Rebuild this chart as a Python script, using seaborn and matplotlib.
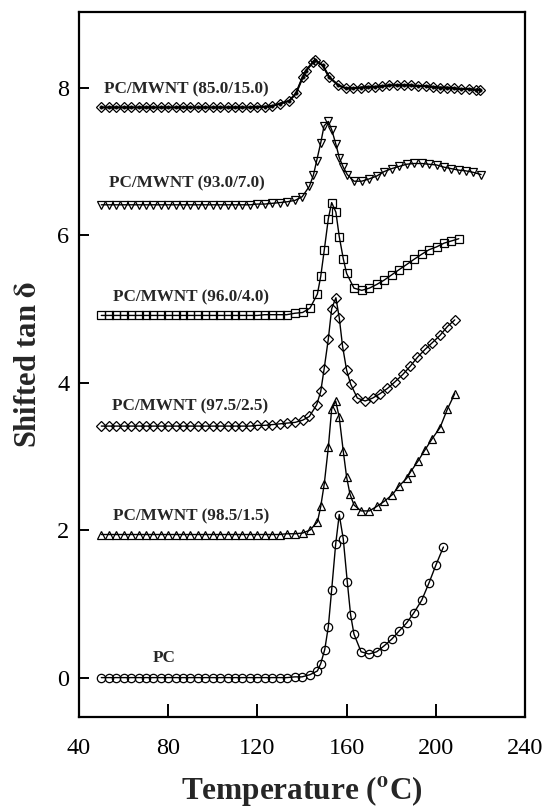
import matplotlib
matplotlib.use("Agg")
import matplotlib.pyplot as plt
import seaborn as sns
import pandas as pd

sns.set_theme(style="white")
plt.rcParams['font.family'] = ['Liberation Serif', 'DejaVu Serif']
plt.rcParams['mathtext.fontset'] = 'stix'

# ---------------- data ----------------
T_FLAT = [50.0, 53.3, 56.7, 60.0, 63.3, 66.7, 70.0, 73.3, 76.7, 80.0, 83.3, 86.7, 90.0,
          93.3, 96.7, 100.0, 103.3, 106.7, 110.0, 113.3, 116.7, 120.0, 123.3, 126.7, 130.0]

pc_T = T_FLAT + [133.3, 136.7, 140.0, 143.6, 146.9, 148.4, 150.2, 151.8, 153.3, 155.1, 156.7,
                 158.5, 160.3, 161.8, 163.3, 166.5, 170.0, 173.5, 176.8, 180.2, 183.5, 186.9,
                 190.2, 193.7, 196.9, 200.1, 203.4]
pc_y = [0.00, 0.00, 0.00, 0.00, 0.00, 0.00, 0.00, 0.00, 0.00, 0.00, 0.00, 0.00, 0.00,
        0.00, 0.00, 0.00, 0.00, 0.00, 0.00, 0.00, 0.00, 0.00, 0.00, 0.00, 0.00,
        0.00, 0.01, 0.01, 0.04, 0.09, 0.19, 0.38, 0.69, 1.19, 1.81, 2.21,
        1.88, 1.30, 0.85, 0.59, 0.35, 0.32, 0.35, 0.43, 0.52, 0.63, 0.74,
        0.88, 1.05, 1.28, 1.53, 1.77]

m15_T = T_FLAT + [133.1, 136.9, 140.3, 143.6, 146.9, 148.4, 150.0, 151.8, 153.3, 155.1, 156.7,
                  158.5, 160.0, 161.5, 163.3, 166.5, 170.2, 173.5, 176.9, 180.5, 183.6, 186.9,
                  188.7, 191.9, 195.2, 198.4, 201.9, 205.2, 208.5]
m15_y = [1.94, 1.94, 1.94, 1.94, 1.94, 1.94, 1.94, 1.94, 1.94, 1.94, 1.94, 1.94, 1.94,
         1.94, 1.94, 1.94, 1.94, 1.94, 1.94, 1.94, 1.94, 1.94, 1.94, 1.94, 1.94,
         1.95, 1.95, 1.96, 2.00, 2.11, 2.32, 2.63, 3.12, 3.64, 3.75, 3.53,
         3.07, 2.72, 2.49, 2.34, 2.26, 2.26, 2.32, 2.39, 2.48, 2.60, 2.70,
         2.79, 2.93, 3.09, 3.24, 3.39, 3.64, 3.85]

m25_T = T_FLAT + [133.1, 136.9, 140.3, 143.3, 146.6, 148.4, 149.9, 151.8, 153.3, 155.2, 156.7,
                  158.2, 160.0, 161.8, 164.8, 168.3, 171.7, 175.0, 178.3, 181.7, 185.2, 188.5,
                  191.7, 195.2, 198.4, 201.9, 205.2, 208.5]
m25_y = [3.41, 3.41, 3.41, 3.41, 3.41, 3.41, 3.41, 3.41, 3.41, 3.41, 3.41, 3.41, 3.41,
         3.41, 3.41, 3.41, 3.41, 3.41, 3.41, 3.41, 3.41, 3.42, 3.42, 3.43, 3.44,
         3.45, 3.46, 3.49, 3.54, 3.70, 3.88, 4.18, 4.59, 5.00, 5.15, 4.88,
         4.49, 4.17, 3.98, 3.79, 3.75, 3.79, 3.85, 3.92, 4.01, 4.11, 4.22,
         4.34, 4.45, 4.54, 4.64, 4.76, 4.85]

m40_T = T_FLAT + [133.1, 136.9, 140.3, 143.6, 146.9, 148.4, 150.0, 151.8, 153.3, 155.2, 156.7,
                  158.5, 160.0, 163.3, 166.8, 170.2, 173.5, 176.9, 180.2, 183.5, 186.9, 190.2,
                  193.7, 196.9, 200.4, 203.7, 207.0, 210.3]
m40_y = [4.91, 4.91, 4.91, 4.91, 4.91, 4.91, 4.91, 4.91, 4.91, 4.91, 4.91, 4.91, 4.91,
         4.91, 4.91, 4.91, 4.91, 4.91, 4.91, 4.91, 4.91, 4.91, 4.92, 4.92, 4.92,
         4.92, 4.94, 4.95, 5.01, 5.20, 5.44, 5.80, 6.22, 6.44, 6.31, 5.98,
         5.68, 5.48, 5.28, 5.25, 5.28, 5.33, 5.39, 5.46, 5.53, 5.60, 5.67,
         5.74, 5.80, 5.84, 5.89, 5.92, 5.95]

m70_T = T_FLAT + [133.1, 136.9, 140.1, 143.3, 145.1, 146.6, 148.4, 149.9, 151.8, 153.3, 155.2,
                  156.7, 158.5, 160.3, 163.3, 166.8, 170.0, 173.5, 176.8, 180.2, 183.5, 186.9,
                  190.2, 193.7, 196.9, 200.4, 203.7, 207.0, 210.3, 213.5, 216.8, 220.3]
m70_y = [6.41, 6.41, 6.41, 6.41, 6.41, 6.41, 6.41, 6.41, 6.41, 6.41, 6.41, 6.41, 6.41,
         6.41, 6.41, 6.41, 6.41, 6.41, 6.41, 6.41, 6.41, 6.42, 6.42, 6.43, 6.44,
         6.45, 6.47, 6.52, 6.66, 6.81, 7.01, 7.25, 7.48, 7.54, 7.43, 7.23,
         7.05, 6.92, 6.82, 6.73, 6.73, 6.76, 6.80, 6.86, 6.90, 6.93, 6.96,
         6.97, 6.97, 6.96, 6.95, 6.92, 6.90, 6.88, 6.87, 6.85, 6.82]

m150_T = T_FLAT + [134.3, 137.3, 140.3, 141.8, 145.1, 145.8, 149.3, 152.2, 156.3, 159.7, 163.0,
                   166.3, 169.5, 172.7, 176.0, 179.2, 182.4, 185.7, 188.9, 192.1, 195.4, 198.6,
                   201.8, 205.0, 208.3, 211.5, 214.7, 218.0, 220.0]
m150_y = [7.73, 7.73, 7.73, 7.73, 7.73, 7.73, 7.73, 7.73, 7.73, 7.73, 7.73, 7.73, 7.73,
          7.73, 7.73, 7.73, 7.73, 7.73, 7.73, 7.73, 7.73, 7.74, 7.74, 7.75, 7.78,
          7.82, 7.92, 8.14, 8.23, 8.35, 8.37, 8.30, 8.14, 8.03, 7.99, 7.99,
          8.00, 8.01, 8.01, 8.02, 8.03, 8.03, 8.03, 8.03, 8.02, 8.02, 8.01,
          8.00, 8.00, 7.99, 7.98, 7.98, 7.97, 7.97]

labels = ["PC", "PC/MWNT (98.5/1.5)", "PC/MWNT (97.5/2.5)", "PC/MWNT (96.0/4.0)",
          "PC/MWNT (93.0/7.0)", "PC/MWNT (85.0/15.0)"]
label_T = [78.0, 55.4, 54.6, 55.4, 53.6, 51.3]
label_y = [0.27, 2.19, 3.68, 5.15, 6.70, 7.97]

x_ticks = [40, 80, 120, 160, 200, 240]
y_ticks = [0, 2, 4, 6, 8]

# ---------------- plot ----------------
fig = plt.figure(figsize=(5.47, 8.08), dpi=100)
ax = fig.add_axes([0.1444, 0.113, 0.8154, 0.8718])

series = [(pc_T, pc_y, 'o', 6.0), (m15_T, m15_y, '^', 6.3), (m25_T, m25_y, 'D', 5.6),
          (m40_T, m40_y, 's', 5.6), (m70_T, m70_y, 'v', 6.3), (m150_T, m150_y, 'D', 5.3)]

for i, (tx, ty, mk, ms) in enumerate(series):
    df = pd.DataFrame({"T": tx, "y": ty})
    sns.lineplot(data=df, x="T", y="y", ax=ax, sort=False, estimator=None,
                 color="black", linewidth=1.0, marker=mk, markersize=ms,
                 markerfacecolor="none", markeredgecolor="black", markeredgewidth=0.9)

# dots inside top diamonds
df_top = pd.DataFrame({"T": m150_T, "y": m150_y})
sns.lineplot(data=df_top, x="T", y="y", ax=ax, sort=False, estimator=None,
             color="black", linewidth=1.5, marker='o', markersize=2.4,
             markerfacecolor="black", markeredgecolor="black", markeredgewidth=0.5)

for i, (lab, lx, ly) in enumerate(zip(labels, label_T, label_y)):
    ax.text(lx, ly, lab, ha='center' if i == 0 else 'left', va='center',
            fontsize=12.3, fontweight='bold', family=['Liberation Serif'])

ax.set_xlim(40, 240)
ax.set_ylim(-0.53, 9.02)
ax.set_xticks(x_ticks)
ax.set_yticks(y_ticks)
ax.set_xticklabels([str(v) for v in x_ticks])
ax.set_yticklabels([str(v) for v in y_ticks])
ax.tick_params(axis='x', direction='in', length=9.5, width=1.4, labelsize=17.5, pad=15,
               bottom=True, top=False, colors='black')
ax.tick_params(axis='y', direction='in', length=7.5, width=1.4, labelsize=17.5, pad=7,
               left=True, right=False, colors='black')
for s in ax.spines.values():
    s.set_linewidth(1.6)
    s.set_color('black')

ax.set_xlabel(r'Temperature ($\mathbf{^{o}}$C)', fontsize=22.5, fontweight='bold', labelpad=11)
ax.set_ylabel(r'Shifted tan $\mathbf{\delta}$', fontsize=22, fontweight='bold', labelpad=10)
ax.grid(False)

fig.savefig("out.png", dpi=100)
